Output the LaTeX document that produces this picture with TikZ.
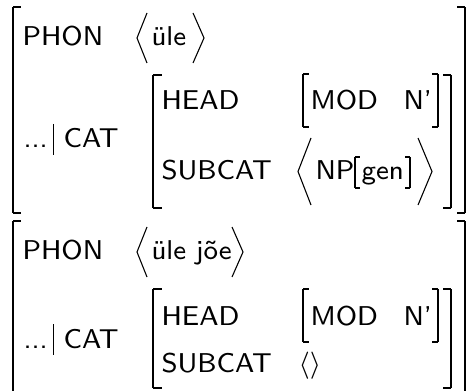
\documentclass[tikz,border=0pt]{standalone}
\usepackage{tikz}
\usepackage{graphicx}
% Labels are set in the 8pt design of Latin Modern Sans, enlarged
\newcommand{\lt}[1]{\scalebox{1.25}{\fontsize{8}{9.6}\selectfont\sffamily #1}}
% Bracket pieces: a stem plus two short serifs
\newcommand{\avmL}[5]{% style, x, top, bottom, serif length
  \draw[#1] (#2,#3) -- (#2,#4);
  \draw[serif] (#2,#3) -- ++(#5,0);
  \draw[serif] (#2,#4) -- ++(#5,0);}
\newcommand{\avmR}[5]{% style, x, top, bottom, serif length
  \draw[#1] (#2,#3) -- (#2,#4);
  \draw[serif] (#2,#3) -- ++(-#5,0);
  \draw[serif] (#2,#4) -- ++(-#5,0);}
\begin{document}
\begin{tikzpicture}[x=0.3676pt,y=-0.3676pt,
  lbl/.style={anchor=base west,inner sep=0pt},
  outerstem/.style={line width=0.8pt},
  innerstem/.style={line width=0.55pt},
  smallstem/.style={line width=0.45pt},
  serif/.style={line width=0.4pt},
  angle/.style={line width=0.4pt,line join=miter},
  bar/.style={line width=0.35pt}]
\useasboundingbox (0,0) rectangle (468,391);
\clip (0,0) rectangle (468,391);

% ---------- first structure ----------
\avmL{outerstem}{13}{7}{213}{8}
\avmR{outerstem}{465}{7}{213}{8}
\node[lbl] (phon1) at (22,46) {\lt{PHON}};
\draw[angle] (147,13) -- (137,38) -- (147,63);
\node[lbl] (ule1) at (151,46) {\lt{üle}};
\draw[angle] (193,13) -- (204,38) -- (193,63);

\node[lbl] (dots1) at (23,148) {\lt{...}};
\draw[bar] (53,124) -- (53,155);
\node[lbl] (cat1) at (63,148) {\lt{CAT}};

\avmL{innerstem}{153}{75}{208}{9}
\avmR{innerstem}{451}{75}{208}{8}
\node[lbl] (head1) at (161,110) {\lt{HEAD}};
\avmL{smallstem}{303}{74}{127}{6}
\node[lbl] (mod1) at (310,110) {\lt{MOD}};
\node[lbl] (n1) at (403,110) {\lt{N'}};
\avmR{smallstem}{438}{74}{127}{6}

\node[lbl] (subcat1) at (161,180) {\lt{SUBCAT}};
\draw[angle] (311,138) -- (298,171.5) -- (311,205);
\node[lbl] (np1) at (315,180) {\lt{NP}};
\avmL{smallstem}{355}{157}{188}{5}
\node[lbl] (gen1) at (361,180) {\lt{gen}};
\avmR{smallstem}{410}{157}{188}{5}
\draw[angle] (418,138) -- (432,171.5) -- (418,205);

% ---------- second structure ----------
\avmL{outerstem}{13}{221}{430}{8}
\avmR{outerstem}{465}{221}{430}{8}
\node[lbl] (phon2) at (22,260) {\lt{PHON}};
\draw[angle] (147,227) -- (137,252) -- (147,277);
\node[lbl] (ule2) at (151,260) {\lt{üle jõe}};
\draw[angle] (232,227) -- (243,252) -- (232,277);

\node[lbl] (dots2) at (23,348) {\lt{...}};
\draw[bar] (53,324) -- (53,355);
\node[lbl] (cat2) at (63,348) {\lt{CAT}};

\avmL{innerstem}{153}{289}{388}{9}
\avmR{innerstem}{451}{289}{388}{8}
\node[lbl] (head2) at (161,325) {\lt{HEAD}};
\avmL{smallstem}{303}{289}{342}{6}
\node[lbl] (mod2) at (310,325) {\lt{MOD}};
\node[lbl] (n2) at (403,325) {\lt{N'}};
\avmR{smallstem}{438}{289}{342}{6}

\node[lbl] (subcat2) at (161,372) {\lt{SUBCAT}};
\node[lbl] (empty2) at (298,372) {\scalebox{1.25}{\fontsize{8}{9.6}\selectfont$\langle\rangle$}};
\end{tikzpicture}
\end{document}
